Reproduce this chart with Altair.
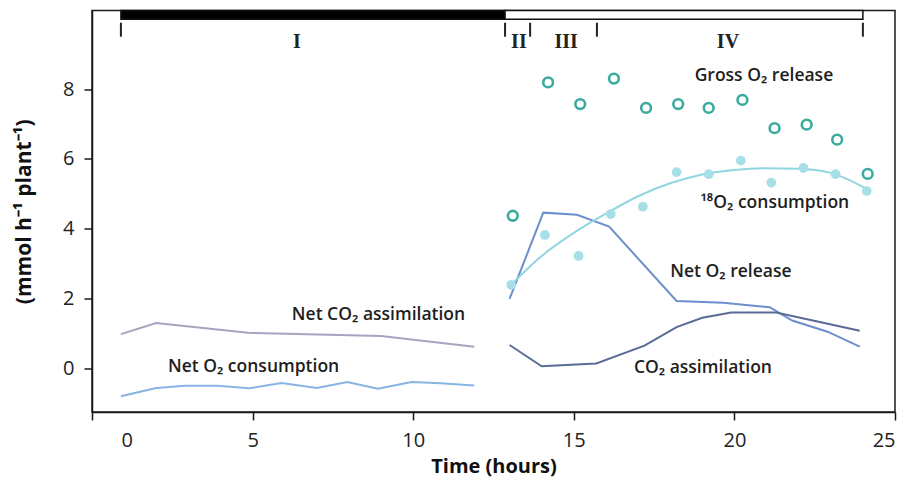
import altair as alt
import pandas as pd

# ---------------- data ----------------
# Phase I (dark)
night_time_co2 = [0.9, 2.0, 4.85, 9.0, 11.9]
night_net_co2 = [0.98, 1.30, 1.02, 0.93, 0.62]
night_time_o2 = [0.9, 2.0, 2.9, 3.9, 4.9, 5.9, 7.0, 7.95, 8.9, 9.95, 10.85, 11.9]
night_net_o2 = [-0.80, -0.56, -0.50, -0.50, -0.57, -0.42, -0.56, -0.39, -0.58, -0.39, -0.43, -0.49]

# Phases II-IV (light)
day_time_o2 = [13.0, 14.05, 15.1, 16.1, 18.2, 19.65, 21.1, 21.8, 22.9, 23.9]
day_net_o2 = [1.99, 4.46, 4.40, 4.06, 1.93, 1.88, 1.75, 1.37, 1.05, 0.62]
day_time_co2 = [13.0, 14.0, 15.7, 17.2, 18.2, 19.0, 19.9, 21.3, 22.3, 23.9]
day_co2 = [0.67, 0.06, 0.14, 0.65, 1.18, 1.45, 1.60, 1.60, 1.40, 1.08]

gross_time = [13.1, 14.2, 15.2, 16.25, 17.25, 18.25, 19.2, 20.25, 21.25, 22.25, 23.2, 24.15]
gross_o2 = [4.37, 8.19, 7.57, 8.30, 7.46, 7.57, 7.46, 7.69, 6.88, 6.98, 6.55, 5.57]

o18_time = [13.05, 14.1, 15.15, 16.15, 17.15, 18.2, 19.2, 20.2, 21.15, 22.15, 23.15, 24.12]
o18_cons = [2.39, 3.82, 3.22, 4.42, 4.63, 5.62, 5.56, 5.95, 5.32, 5.74, 5.56, 5.08]

fit_time = [13.0, 14.0, 15.0, 16.0, 17.0, 18.0, 19.0, 20.0, 21.0, 22.0, 23.0, 24.1]
fit_o18 = [2.35, 3.22, 3.88, 4.43, 4.93, 5.30, 5.55, 5.68, 5.73, 5.72, 5.60, 5.15]

# Phase bar / boundaries
phase_bounds = [0.9, 12.86, 13.64, 15.72, 24.0]
phase_names = ["I", "II", "III", "IV"]
phase_label_t = [6.38, 13.29, 14.76, 19.8]
bar_fill = ["black", "white"]

# Series annotations
note_text = ["Gross O\u2082 release", "\u00b9\u2078O\u2082 consumption", "Net O\u2082 release",
             "CO\u2082 assimilation", "Net CO\u2082 assimilation", "Net O\u2082 consumption"]
note_t = [20.92, 21.26, 19.89, 19.02, 8.92, 5.03]
note_v = [8.38, 4.74, 2.76, 0.01, 1.53, 0.04]

x_ticks = [0, 5, 10, 15, 20, 25]
y_ticks = [0, 2, 4, 6, 8]

# ---------------- encodings ----------------
x_axis = alt.Axis(values=x_ticks, tickSize=8, labelPadding=10, titlePadding=6,
                  labelOffset={"condition": {"test": "datum.value == 0", "value": 29}, "value": 0})
y_axis = alt.Axis(values=y_ticks, tickSize=8, labelPadding=10, titlePadding=28,
                  titleFontSize=21)

X = alt.X("t:Q", scale=alt.Scale(domain=[0, 25], nice=False, zero=False),
          axis=x_axis, title="Time (hours)")
Y = alt.Y("v:Q", scale=alt.Scale(domain=[-1.25, 10.25], nice=False, zero=False),
          axis=y_axis, title="(mmol h\u207b\u00b9 plant\u207b\u00b9)")


def line(ts, vs, color, interp="linear", width=2.0):
    df = pd.DataFrame({"t": ts, "v": vs})
    return alt.Chart(df).mark_line(color=color, strokeWidth=width, interpolate=interp).encode(x=X, y=Y)


net_co2_line = line(night_time_co2, night_net_co2, "#a6a4be")
net_o2_cons_line = line(night_time_o2, night_net_o2, "#86b4e3")
net_o2_rel_line = line(day_time_o2, day_net_o2, "#6d8fcb")
co2_assim_line = line(day_time_co2, day_co2, "#5a6b98")
fit_line = line(fit_time, fit_o18, "#8fd6e0", interp="monotone")

gross_pts = alt.Chart(pd.DataFrame({"t": gross_time, "v": gross_o2})).mark_point(
    filled=False, color="#3aab9e", size=95, strokeWidth=2.6, opacity=1
).encode(x=X, y=Y)

o18_pts = alt.Chart(pd.DataFrame({"t": o18_time, "v": o18_cons})).mark_circle(
    color="#a6dfe8", size=95, opacity=1
).encode(x=X, y=Y)

# Phase bar at the top
bar_df = pd.DataFrame({
    "t": [phase_bounds[0], phase_bounds[1]],
    "t2": [phase_bounds[1], phase_bounds[4]],
    "v": [10.0, 10.0],
    "v2": [10.25, 10.25],
    "fill": bar_fill,
})
bars = alt.Chart(bar_df).mark_rect(stroke="#111", strokeWidth=1.5).encode(
    x=X, x2="t2", y=Y, y2="v2", fill=alt.Fill("fill:N", scale=None)
)

tick_df = pd.DataFrame({"t": phase_bounds, "v": [9.5] * len(phase_bounds), "v2": [9.9] * len(phase_bounds)})
phase_ticks = alt.Chart(tick_df).mark_rule(color="#222", strokeWidth=2).encode(x=X, y=Y, y2="v2")

phase_df = pd.DataFrame({"t": phase_label_t, "v": [9.36] * 4, "label": phase_names})
phase_labels = alt.Chart(phase_df).mark_text(
    font="Liberation Serif", fontWeight="bold", fontSize=20, color="#222", baseline="middle"
).encode(x=X, y=Y, text="label:N")

note_df = pd.DataFrame({"t": note_t, "v": note_v, "label": note_text})
notes = alt.Chart(note_df).mark_text(
    font="Open Sans", fontWeight=600, fontSize=17.5, color="#1e1e1e", baseline="middle"
).encode(x=X, y=Y, text="label:N")

chart = alt.layer(
    bars, phase_ticks, phase_labels,
    net_co2_line, net_o2_cons_line, net_o2_rel_line, co2_assim_line, fit_line,
    gross_pts, o18_pts, notes,
).properties(
    width=803, height=401.5,
    autosize=alt.AutoSizeParams(type="none"),
    padding={"left": 84, "top": 2.5, "right": 5, "bottom": 66},
).configure_view(
    stroke="#1a1a1a", strokeWidth=1.5
).configure_axis(
    grid=False, domainColor="#1a1a1a", domainWidth=1.5, tickColor="#1a1a1a", tickWidth=1.5,
    labelFont="Open Sans", labelFontSize=20, labelColor="#222",
    titleFont="Open Sans", titleFontSize=20, titleFontWeight="bold", titleColor="#111",
)

chart.save("out.html", embed_options={"renderer": "svg", "actions": False})
